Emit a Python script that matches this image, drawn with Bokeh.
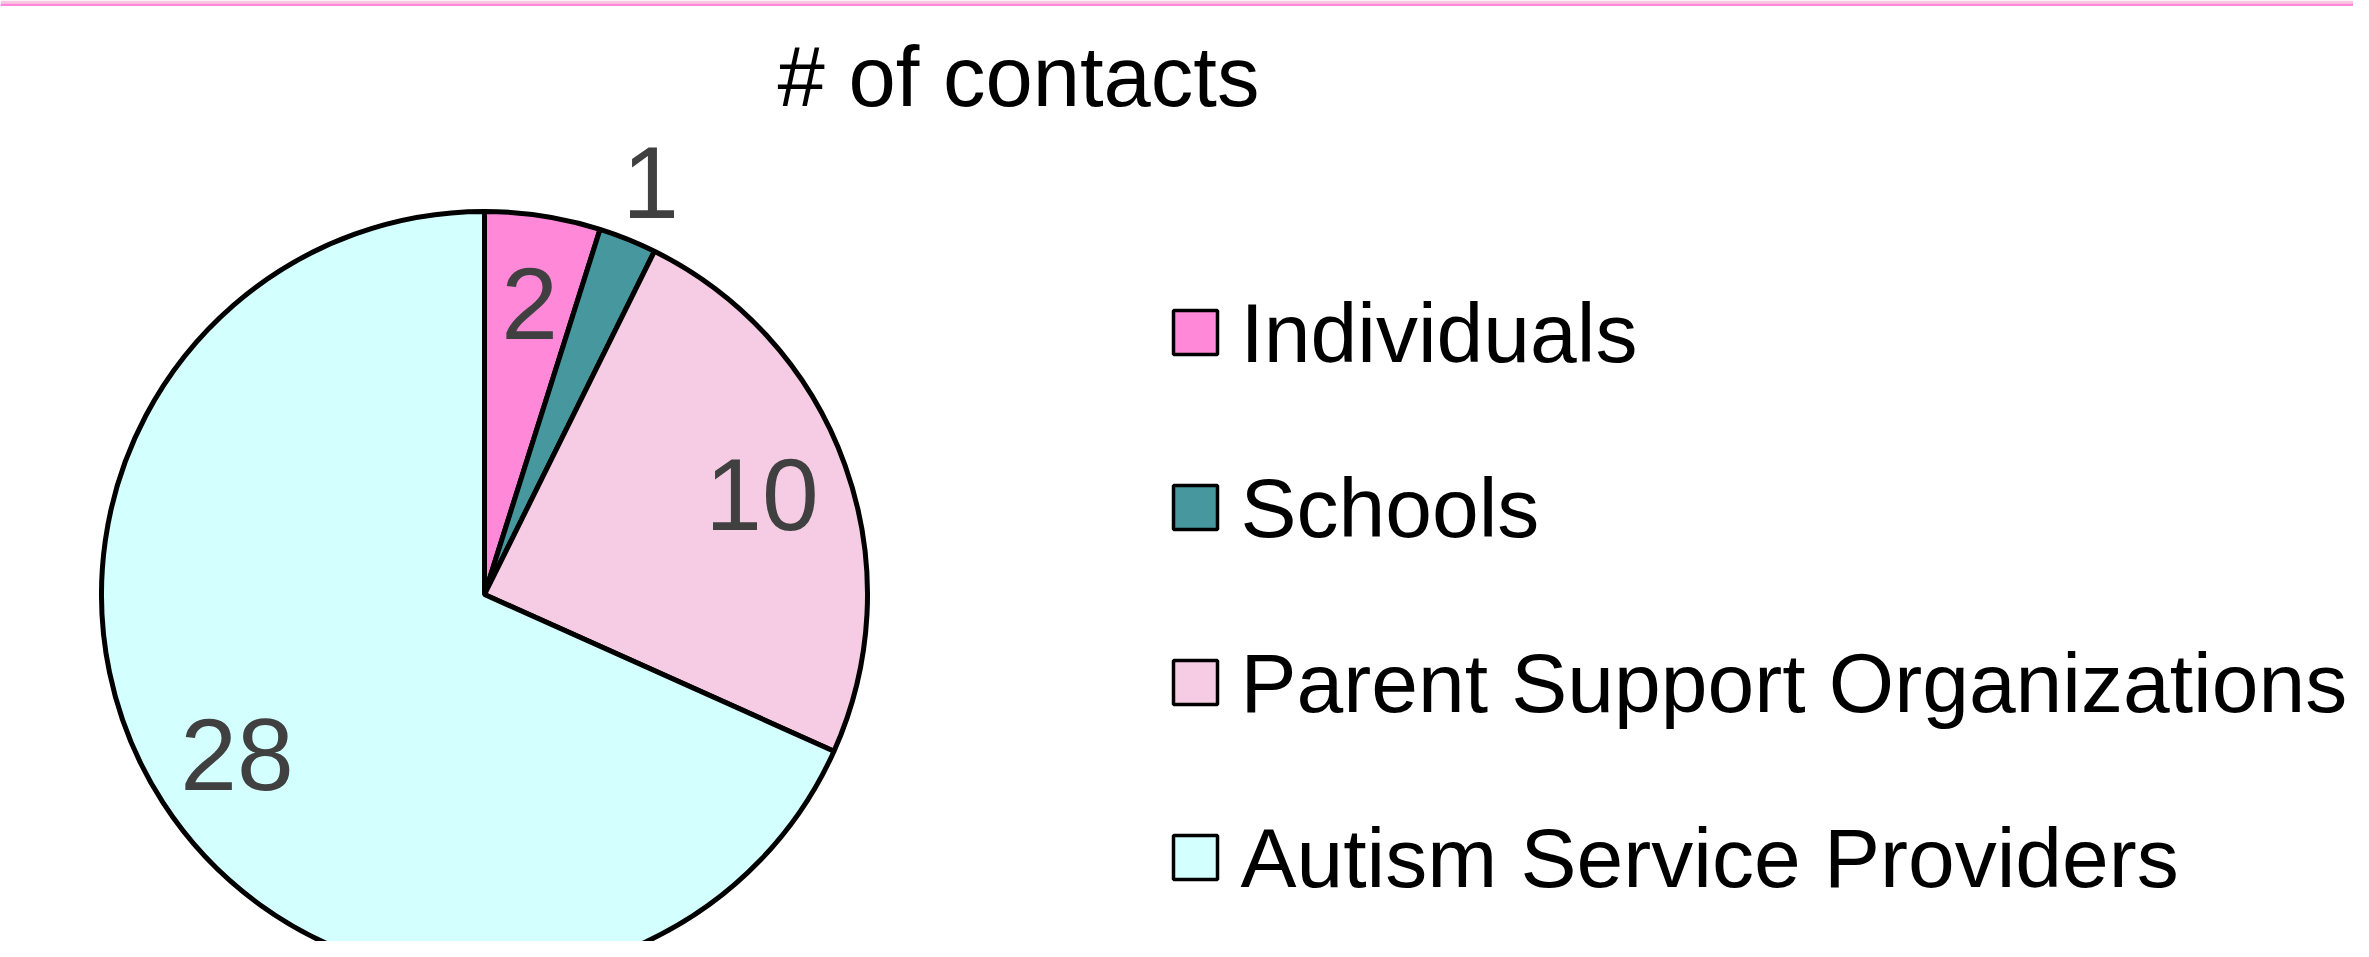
import math
from bokeh.plotting import figure
from bokeh.models import Range1d, ColumnDataSource
from bokeh.core.properties import value
from bokeh.embed import file_html
from bokeh.resources import INLINE

# ---- data ----
title_text = "# of contacts"
categories = ["Individuals", "Schools", "Parent Support Organizations", "Autism Service Providers"]
counts = [2, 1, 10, 28]
colors = ["#FF88D8", "#46979E", "#F5CCE3", "#D4FFFF"]

# ---- layout (picture pixel coordinates; y measured downward) ----
W, H = 2353, 941
FONT = "Liberation Sans"
cx, cy, R = 484, 594, 383
BASE_FIX = 30  # alphabetic baseline correction (px)

p = figure(width=W, height=H, output_backend="svg", toolbar_location=None,
           x_range=Range1d(0, W), y_range=Range1d(-H, 0),
           x_axis_type=None, y_axis_type=None, min_border=0,
           outline_line_color=None, background_fill_color="white",
           border_fill_color="white")
p.grid.visible = False

# top pink rule
p.quad(left=[0], right=[W], top=[0], bottom=[-3], fill_color="#F8C8E2", line_color=None)
p.quad(left=[0], right=[W], top=[-3], bottom=[-5.5], fill_color="#FF88D8", line_color=None)

# pie
total = float(sum(counts))
starts, ends, mids = [], [], []
cum = 0.0
for c in counts:
    a0 = math.pi / 2 - cum / total * 2 * math.pi
    cum += c
    a1 = math.pi / 2 - cum / total * 2 * math.pi
    starts.append(a1)
    ends.append(a0)
    mids.append((a0 + a1) / 2)

src = ColumnDataSource(dict(x=[cx] * len(counts), y=[-cy] * len(counts),
                            start=starts, end=ends, color=colors))
p.wedge(x="x", y="y", radius=R, radius_units="screen", start_angle="start", end_angle="end",
        fill_color="color", line_color="black", line_width=5, source=src)

# data labels
lx, ly, lt = [], [], []
for c, m in zip(counts, mids):
    f = 1.16 if c / total < 0.04 else 0.77
    lx.append(cx + f * R * math.cos(m))
    ly.append(-cy + f * R * math.sin(m))
    lt.append(str(c))
p.text(x=lx, y=ly, text=lt, text_font=value(FONT), text_font_size="102px",
       text_color="#404040", text_align="center", text_baseline="middle")

# title
p.text(x=[1018], y=[-(106 - BASE_FIX)], text=[title_text], text_font=value(FONT),
       text_font_size="85px", text_color="black", text_align="center",
       text_baseline="alphabetic")

# legend
base0, step = 362, 175
baselines = [base0 + i * step for i in range(len(categories))]
p.rect(x=[1195] * len(categories), y=[-(b - 30) for b in baselines], width=44, height=44,
       width_units="screen", height_units="screen",
       fill_color=colors, line_color="black", line_width=3.5)
p.text(x=[1240] * len(categories), y=[-(b - BASE_FIX) for b in baselines], text=categories,
       text_font=value(FONT), text_font_size="84px", text_color="black",
       text_align="left", text_baseline="alphabetic")

open("out.html", "w").write(file_html(p, INLINE))
